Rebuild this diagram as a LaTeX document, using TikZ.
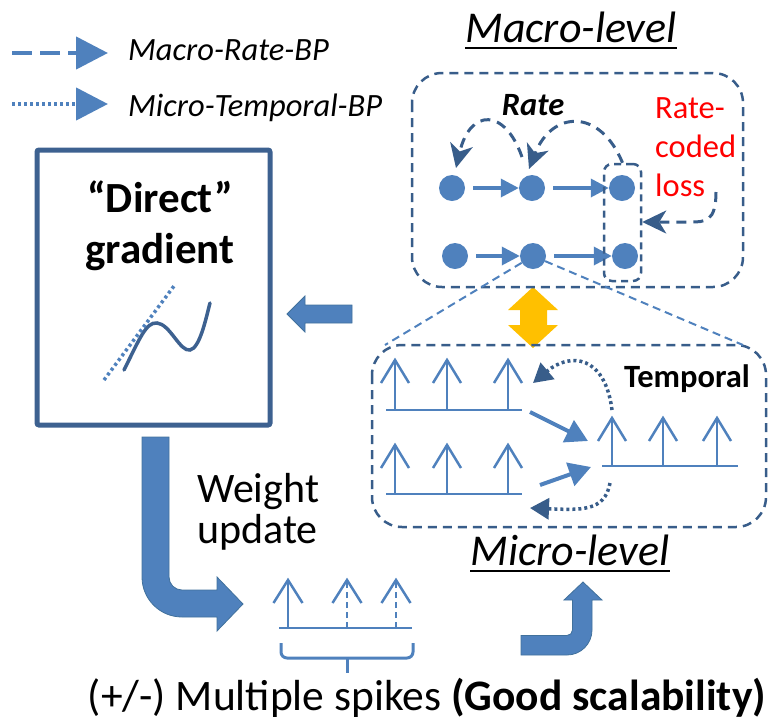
\documentclass[tikz,border=0pt]{standalone}
\usepackage{fontspec}
\setmainfont{Carlito}
\usetikzlibrary{arrows.meta}

\definecolor{cblue}{HTML}{4F81BD}
\definecolor{cdark}{HTML}{385D8A}
\definecolor{cframe}{HTML}{3D6190}
\definecolor{cgold}{HTML}{FFC000}
\definecolor{cedge}{HTML}{41719C}

\tikzset{
  neuron/.style={circle, fill=cblue, minimum size=26pt, inner sep=0pt},
  txt/.style={inner sep=0pt, text=black},
  small/.style={font=\fontsize{32.5}{39}\selectfont},
  large/.style={font=\fontsize{43}{51}\selectfont},
  title/.style={font=\fontsize{44}{51}\selectfont},
  flow/.style={cblue, line width=3.5pt, shorten <=8pt, -{Triangle[length=18pt,width=18pt]}},
  rateback/.style={cdark, line width=3pt, dash pattern=on 10pt off 7pt, -{Stealth[length=24pt,width=23pt,inset=7pt]}},
  timeback/.style={cdark, line width=3.5pt, dash pattern=on 3pt off 3pt, -{Triangle[length=19pt,width=21pt]}},
  spk/.style={cblue, line width=2.5pt},
  spkdash/.style={cblue, line width=2.5pt, dash pattern=on 6pt off 4pt},
  timeflow/.style={cblue, line width=4pt, -{Triangle[length=22pt,width=24pt]}},
  levelbox/.style={cdark, line width=2.5pt, dash pattern=on 9pt off 6pt, rounded corners=30pt},
  zoomline/.style={cblue, line width=2pt, dash pattern=on 8pt off 5pt},
  blockarrow/.style={fill=cblue, draw=cedge, line width=0.8pt},
  uline/.style={black, line width=2.5pt},
}

\begin{document}
\begin{tikzpicture}[x=1pt, y=-1pt]
\useasboundingbox (0,0) rectangle (769,724);

% ---------- legend ----------
\coordinate (lga) at (12,53);
\coordinate (lgb) at (108,53);
\coordinate (lgc) at (12,104);
\coordinate (lgd) at (108,104);
\draw[cblue, line width=4.5pt, dash pattern=on 20pt off 8pt, -{Triangle[length=32pt,width=32pt]}] (lga) -- (lgb);
\draw[cblue, line width=4.5pt, dash pattern=on 3pt off 3pt, -{Triangle[length=32pt,width=32pt]}] (lgc) -- (lgd);
\node[txt, small, anchor=base west] (lgtxt1) at (128,60) {\itshape Macro-Rate-BP};
\node[txt, small, anchor=base west] (lgtxt2) at (128,116) {\itshape Micro-Temporal-BP};

% ---------- yellow link between the two levels ----------
\fill[cgold] (533,287) -- (558,310) -- (547,310) -- (547,325) -- (558,325) -- (533,348)
  -- (508,325) -- (520,325) -- (520,310) -- (508,310) -- cycle;

% ---------- macro level ----------
\node[txt, title, anchor=base] (macrotitle) at (571,42) {\itshape Macro-level};
\draw[uline] ([yshift=-6pt]macrotitle.base west) -- ([yshift=-6pt]macrotitle.base east);
\draw[levelbox] (412,73) rectangle (743,287);

\node[neuron] (n11) at (452,188) {};
\node[neuron] (n12) at (532,188) {};
\node[neuron] (n13) at (622,188) {};
\node[neuron] (n21) at (455,256) {};
\node[neuron] (n22) at (533,256) {};
\node[neuron] (n23) at (625,256) {};
\draw[flow] (n11) -- (n12);
\draw[flow] (n12) -- (n13);
\draw[flow] (n21) -- (n22);
\draw[flow] (n22) -- (n23);

\node[draw=cdark, line width=2.5pt, dash pattern=on 7pt off 5pt, rounded corners=8pt,
      minimum width=37pt, minimum height=117pt, inner sep=0pt] (outcol) at (622.5,222.5) {};

\node[txt, small, anchor=base] (ratelbl) at (533,115) {\bfseries\itshape Rate};
\node[txt, small, anchor=base west, align=left, text=red] (losslbl) at (655,196) {Rate-\\coded\\loss};

\draw[rateback] ([xshift=-10pt,yshift=31pt]n12.center) .. controls (505,108) and (470,108) .. ([xshift=4pt,yshift=20pt]n11.center);
\draw[rateback] (outcol.north) .. controls (600,108) and (552,110) .. ([xshift=-3pt,yshift=19pt]n12.center);
\draw[rateback] ([xshift=61pt,yshift=4pt]losslbl.base west) .. controls (716,222) and (705,222) .. (690,222) -- ([yshift=0.5pt]outcol.east);

% ---------- micro level ----------
\draw[levelbox] (372,345) rectangle (766,527);
\coordinate (zl) at (385,345);
\coordinate (zr) at (743,345);
\draw[zoomline] (n22) -- (zl);
\draw[zoomline] (n22) -- (zr);

% spike trains
\foreach \x in {395,447,508} {
  \draw[spk] (\x,410) -- (\x,360);
  \draw[spk] (\x-14,383) -- (\x,360) -- (\x+14,383);
  \draw[spk] (\x,494) -- (\x,445);
  \draw[spk] (\x-14,468) -- (\x,445) -- (\x+14,468);
}
\draw[spk] (386,410) -- (522,410);
\draw[spk] (386,494) -- (522,494);
\foreach \x in {612,663,717} {
  \draw[spk] (\x,466) -- (\x,418);
  \draw[spk] (\x-14,441) -- (\x,418) -- (\x+14,441);
}
\draw[spk] (602,466) -- (738,466);

\coordinate (ta) at (530,412);
\coordinate (tc) at (588,441);
\coordinate (tb) at (540,485);
\coordinate (td) at (591,467);
\draw[timeflow] (ta) -- (tc);
\draw[timeflow] (tb) -- (td);

\coordinate (tcs) at (612,410);
\coordinate (tae) at (533,383);
\coordinate (tds) at (610,483);
\coordinate (tbe) at (530,508);
\draw[timeback] (tcs) .. controls (605,355) and (570,352) .. (tae);
\draw[timeback] (tds) .. controls (605,512) and (580,510) .. (tbe);

\node[txt, small, anchor=base] (templbl) at (687,387) {\bfseries Temporal};

\node[txt, title, anchor=base] (microtitle) at (570,565) {\itshape Micro-level};
\draw[uline] ([yshift=-6pt]microtitle.base west) -- ([yshift=-6pt]microtitle.base east);

% ---------- direct gradient ----------
\draw[cframe, line width=5pt, rounded corners=2pt] (37,150) rectangle (270,425);
\node[txt, large, anchor=base, align=center] (gradlbl) at (160,263) {\bfseries “Direct”\\\bfseries gradient};
\draw[cframe, line width=3.5pt, line cap=round] (124,370) .. controls (140,338) and (146,322) .. (157,323)
  .. controls (170,324) and (180,352) .. (190,350) .. controls (200,348) and (206,318) .. (210,303);
\draw[cblue, line width=3.5pt, dash pattern=on 3pt off 3pt] (104,380) -- (174,286);

% arrow from macro level into the gradient box
\filldraw[blockarrow] (352,305) -- (305,305) -- (305,296) -- (287,314) -- (305,332) -- (305,323) -- (352,323) -- cycle;

% bent arrow down to the weight update
\filldraw[blockarrow] (142,437) -- (142,577) .. controls (142,599.1) and (159.9,617) .. (182,617)
  -- (217,617) -- (217,631) -- (243,604) -- (217,577) -- (217,590) -- (182,590)
  .. controls (174.8,590) and (169,584.2) .. (169,577) -- (169,437) -- cycle;

\node[txt, font=\fontsize{42}{41}\selectfont, anchor=base west, align=left] (wlbl) at (197,543) {Weight\\update};

% multiple spikes
\draw[spk] (279,628) -- (412,628);
\draw[spk] (288,628) -- (288,580);
\draw[spk] (273.5,603) -- (288,580) -- (302.5,603);
\foreach \x in {347,396} {
  \draw[spkdash] (\x,628) -- (\x,582);
  \draw[spk] (\x-14.5,603) -- (\x,580) -- (\x+14.5,603);
}
\draw[cblue, line width=3pt, rounded corners=6pt] (281,643) -- (281,658) -- (413,658) -- (413,643);
\draw[cblue, line width=3pt] (347,658) -- (347,673);

% bent arrow up to the micro level
\filldraw[blockarrow] (521,635.5) -- (567,635.5) .. controls (570,635.5) and (572.5,633) .. (572.5,630)
  -- (572.5,600) -- (564,600) -- (583,582) -- (602,600) -- (592,600) -- (592,630)
  .. controls (592,643.8) and (580.8,655) .. (567,655) -- (521,655) -- cycle;

\node[txt, font=\fontsize{43.5}{51}\selectfont, anchor=base] (caption) at (427,710) {(+/-) Multiple spikes \textbf{(Good scalability)}};

\end{tikzpicture}
\end{document}
